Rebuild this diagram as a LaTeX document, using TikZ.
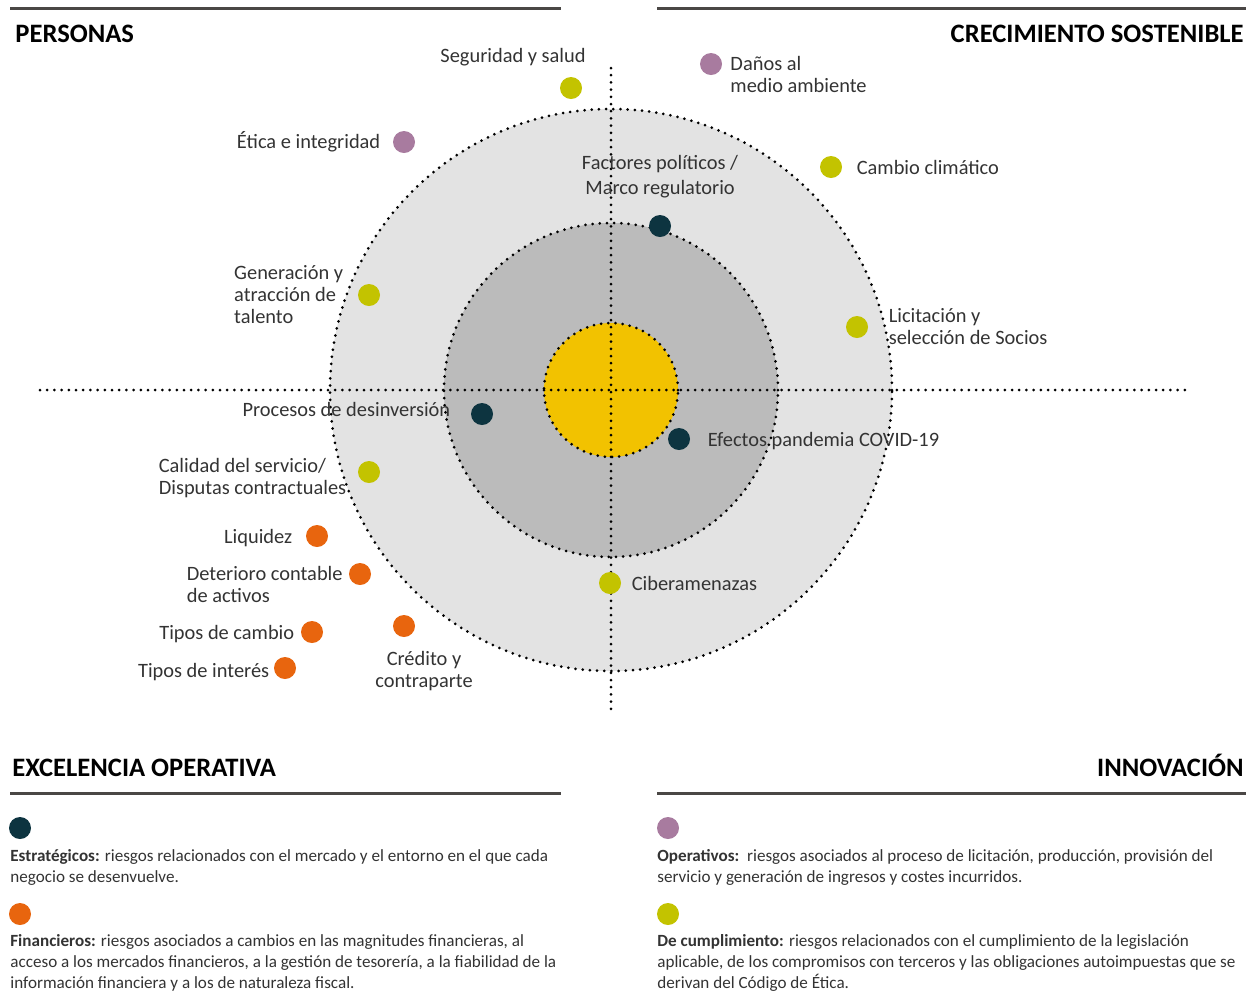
\documentclass[tikz,border=0pt]{standalone}
\usepackage{fontspec}
\setmainfont{Carlito}
\usetikzlibrary{positioning}

\definecolor{riskteal}{HTML}{0D3440}
\definecolor{riskorange}{HTML}{E8650E}
\definecolor{risklime}{HTML}{C3C300}
\definecolor{riskmauve}{HTML}{A87B9F}
\definecolor{coreyellow}{HTML}{F2C200}
\definecolor{ringlight}{HTML}{E3E3E3}
\definecolor{ringmid}{HTML}{BBBBBB}
\definecolor{rulegray}{HTML}{4A4745}
\definecolor{labelgray}{HTML}{333333}

\begin{document}
\begin{tikzpicture}[
    x=0.5pt, y=-0.5pt,
    dotline/.style={line width=1.5pt, dash pattern=on 0pt off 3.6pt, line cap=round},
    riskdot/.style={circle, fill=#1, minimum size=11pt, inner sep=0pt},
    lbl/.style={font=\fontsize{10.2}{11}\selectfont, text=labelgray, inner sep=0pt, align=left},
    heading/.style={font=\fontsize{13.3}{15}\selectfont\bfseries, text=black, inner sep=0pt},
    rulebar/.style={line width=1.5pt, draw=rulegray},
    legendtext/.style={font=\fontsize{8.55}{10.6}\selectfont, text=labelgray, inner sep=0pt, align=left, anchor=north west}
]
    \useasboundingbox (0,0) rectangle (1246,993);

    % rings
    \coordinate (ctr) at (611,390);
    \fill[ringlight] (ctr) circle[radius=140.5pt];
    \fill[ringmid] (ctr) circle[radius=83.5pt];
    \fill[coreyellow] (ctr) circle[radius=33.5pt];
    \draw[dotline] (ctr) circle[radius=140.5pt];
    \draw[dotline] (ctr) circle[radius=83.5pt];
    \draw[dotline] (ctr) circle[radius=33.5pt];

    % axes
    \coordinate (axW) at (40,390);
    \coordinate (axE) at (1192,390);
    \coordinate (axN) at (611,68);
    \coordinate (axS) at (611,714);
    \draw[dotline] (axW) -- (axE);
    \draw[dotline] (axN) -- (axS);

    % quadrant headings
    \coordinate (r1a) at (10,8);   \coordinate (r1b) at (561,8);
    \coordinate (r2a) at (657,8);  \coordinate (r2b) at (1246,8);
    \coordinate (r3a) at (10,793); \coordinate (r3b) at (561,793);
    \coordinate (r4a) at (657,793);\coordinate (r4b) at (1246,793);
    \draw[rulebar] (r1a) -- (r1b);
    \draw[rulebar] (r2a) -- (r2b);
    \draw[rulebar] (r3a) -- (r3b);
    \draw[rulebar] (r4a) -- (r4b);
    \node[heading, anchor=base west] (personas) at (15,42) {PERSONAS};
    \node[heading, anchor=base east] (crecim) at (1244,42) {CRECIMIENTO SOSTENIBLE};
    \node[heading, anchor=base west] (excel) at (12,776) {EXCELENCIA OPERATIVA};
    \node[heading, anchor=base east] (innov) at (1244,776) {INNOVACIÓN};

    % risks
    \node[riskdot=risklime] (seg) at (571,88) {};
    \node[riskdot=riskmauve] (danos) at (711,64) {};
    \node[riskdot=riskmauve] (etica) at (404,142) {};
    \node[riskdot=riskteal] (factores) at (660,226) {};
    \node[riskdot=risklime] (clima) at (831,167) {};
    \node[riskdot=risklime] (talento) at (369,295) {};
    \node[riskdot=risklime] (licit) at (857,327) {};
    \node[riskdot=riskteal] (desinv) at (482,414) {};
    \node[riskdot=riskteal] (covid) at (679,439) {};
    \node[riskdot=risklime] (calidad) at (369,472) {};
    \node[riskdot=riskorange] (liquidez) at (317,536) {};
    \node[riskdot=riskorange] (deterioro) at (360,574) {};
    \node[riskdot=risklime] (ciber) at (610,583) {};
    \node[riskdot=riskorange] (tcambio) at (312,632) {};
    \node[riskdot=riskorange] (credito) at (404,626) {};
    \node[riskdot=riskorange] (tinteres) at (285,668) {};

    \node[lbl, anchor=east] (segL) at (586,57) {Seguridad y salud};
    \node[lbl, right=5.5pt of danos.north east, anchor=north west] (danosL) {Daños al\\medio ambiente};
    \node[lbl, left=6pt of etica] (eticaL) {Ética e integridad};
    \node[lbl, align=center, font=\fontsize{10.2}{12.5}\selectfont, above=8pt of factores] (factoresL) {Factores políticos /\\Marco regulatorio};
    \node[lbl, right=7pt of clima] (climaL) {Cambio climático};
    \node[lbl, left=7pt of talento] (talentoL) {Generación y\\atracción de\\talento};
    \node[lbl, right=10pt of licit] (licitL) {Licitación y\\selección de Socios};
    \node[lbl, left=10pt of desinv, yshift=2.5pt] (desinvL) {Procesos de desinversión};
    \node[lbl, right=8.5pt of covid, yshift=-1pt] (covidL) {Efectos pandemia COVID-19};
    \node[lbl, left=5.5pt of calidad, yshift=-3pt] (calidadL) {Calidad del servicio/\\Disputas contractuales};
    \node[lbl, left=6.5pt of liquidez, yshift=-1pt] (liquidezL) {Liquidez};
    \node[lbl, left=4.5pt of deterioro.north west, anchor=north east] (deterioroL) {Deterioro contable\\de activos};
    \node[lbl, right=5pt of ciber] (ciberL) {Ciberamenazas};
    \node[lbl, left=3pt of tcambio, yshift=-1pt] (tcambioL) {Tipos de cambio};
    \node[lbl, align=center, anchor=north] (creditoL) at (424,651) {Crédito y\\contraparte};
    \node[lbl, left=2pt of tinteres, yshift=-2pt] (tinteresL) {Tipos de interés};

    % legend
    \node[riskdot=riskteal] (kEstr) at (20,828) {};
    \node[legendtext] (kEstrT) at (10,849) {\textbf{Estratégicos:} riesgos relacionados con el mercado y el entorno en el que cada\\negocio se desenvuelve.};
    \node[riskdot=riskorange] (kFin) at (20,914) {};
    \node[legendtext] (kFinT) at (10,934) {\textbf{Financieros:} riesgos asociados a cambios en las magnitudes financieras, al\\acceso a los mercados financieros, a la gestión de tesorería, a la fiabilidad de la\\información financiera y a los de naturaleza fiscal.};
    \node[riskdot=riskmauve] (kOper) at (668,828) {};
    \node[legendtext] (kOperT) at (657,849) {\textbf{Operativos:}\ \ riesgos asociados al proceso de licitación, producción, provisión del\\servicio y generación de ingresos y costes incurridos.};
    \node[riskdot=risklime] (kCumpl) at (668,914) {};
    \node[legendtext] (kCumplT) at (657,934) {\textbf{De cumplimiento:} riesgos relacionados con el cumplimiento de la legislación\\aplicable, de los compromisos con terceros y las obligaciones autoimpuestas que se\\derivan del Código de Ética.};
\end{tikzpicture}
\end{document}
